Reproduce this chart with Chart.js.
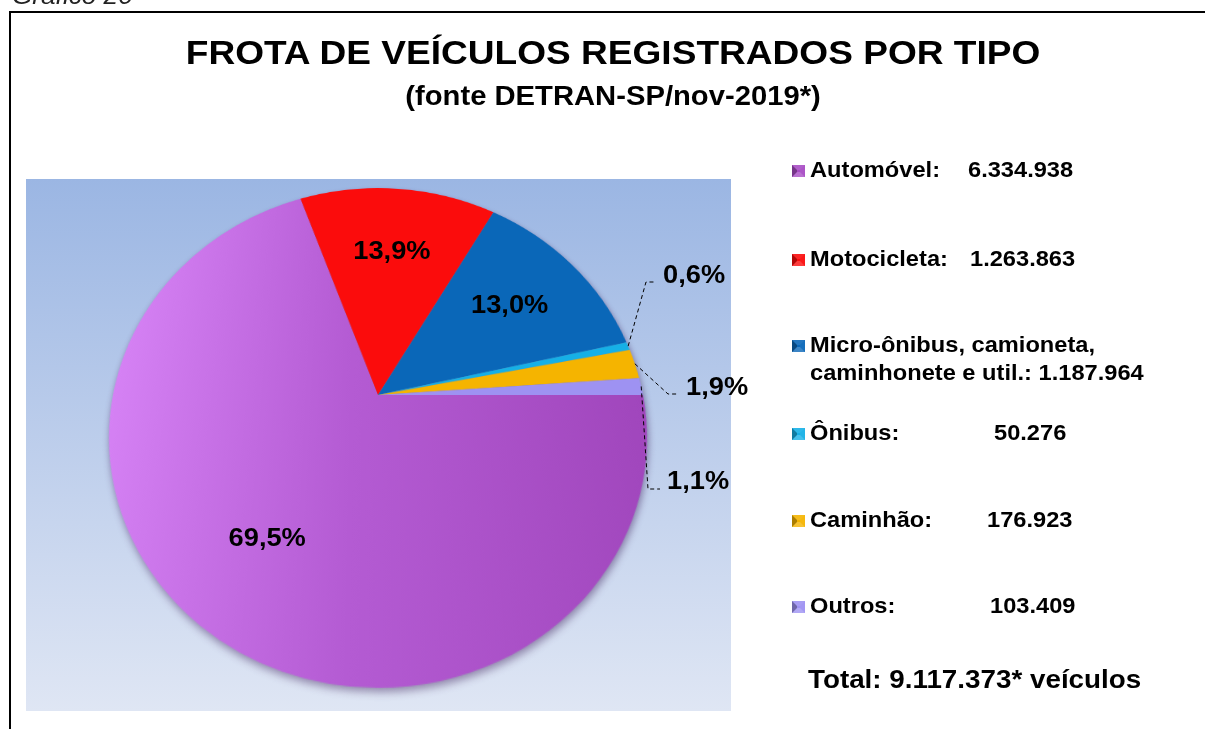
<!DOCTYPE html>
<html lang="pt-BR">
<head>
<meta charset="utf-8">
<title>Frota de veículos registrados por tipo</title>
<script src="https://cdn.jsdelivr.net/npm/chart.js@4.4.0/dist/chart.umd.min.js"></script>
<style>
html,body{margin:0;padding:0;background:#fff;width:1205px;height:729px;overflow:hidden;
  font-family:'Liberation Sans',Arial,Helvetica,sans-serif;color:#000;}
.t{position:absolute;white-space:nowrap;line-height:1;}
#frame{position:absolute;left:9px;top:11px;width:1300px;height:800px;border-left:2px solid #000;border-top:2px solid #000;}
#plotbg{position:absolute;left:26px;top:179px;width:705px;height:532px;background:linear-gradient(#9bb6e3,#dfe6f4);}
#pie{position:absolute;left:78px;top:95px;filter:drop-shadow(1px 3px 3px rgba(50,20,80,.45));}
#ovl{position:absolute;left:0;top:0;pointer-events:none;}
.mk{position:absolute;width:3px;height:2px;border-style:solid;border-width:5px 5px 5px 5px;}
</style>
</head>
<body>
<div id="frame"></div>
<div id="plotbg"></div>
<canvas id="pie" width="600" height="600"></canvas>
<canvas id="ovl" width="1205" height="729"></canvas>
<div id="txt"></div>
<script>
// frota DETRAN-SP, nov/2019
const labels = ['Automóvel', 'Motocicleta', 'Micro-ônibus, camioneta,\ncaminhonete e util.', 'Ônibus', 'Caminhão', 'Outros'];
const values = [6334938, 1263863, 1187964, 50276, 176923, 103409];
const colors = ['#a84cc4', '#fb0c0c', '#0a67b8', '#16b0e6', '#f5b400', '#9e92f2'];
const totalTxt = 'Total: 9.117.373* veículos';

// layout
const SX = 1.09;                 // texts are a bit wide
const TILT = 23.8 * Math.PI / 180, PERSP = 621;
const LEG_X = 810, LEG_BASE = [177, 266, 352, 440, 527, 613], LEG_VALX = [968, 970, null, 994, 987, 990];
const OUT_LBL = {
  3: {path: [[646, 282], [655, 282]], at: [663, 283]},
  4: {path: [[668, 394], [677, 394]], at: [686, 395]},
  5: {path: [[648, 489], [660, 489]], at: [667, 489]}
};

const fmt = v => String(v).replace(/\B(?=(\d{3})+(?!\d))/g, '.');
const total = values.reduce((a, b) => a + b, 0);
const pct = v => (v / total * 100).toFixed(1).replace('.', ',') + '%';

function shade(hex, f){
  const n = parseInt(hex.slice(1), 16);
  const c = [n >> 16, (n >> 8) & 255, n & 255].map(x => f < 0 ? x * (1 + f) : x + (255 - x) * f);
  return 'rgb(' + c.map(Math.round).join(',') + ')';
}

// text helper: x is left edge (or center when mid), base is the baseline
function put(s, x, base, size, o){
  o = o || {};
  const d = document.createElement('div');
  d.className = 't';
  d.textContent = s;
  d.style.fontSize = size + 'px';
  d.style.fontWeight = o.normal ? 'normal' : 'bold';
  if(o.italic) d.style.fontStyle = 'italic';
  if(o.color) d.style.color = o.color;
  d.style.left = x + 'px';
  d.style.top = (base - 0.8465 * size) + 'px';
  if(o.mid){ d.style.transformOrigin = '50% 0'; d.style.transform = 'translateX(-50%) scaleX(' + SX + ')'; }
  else { d.style.transformOrigin = '0 0'; d.style.transform = 'scaleX(' + SX + ')'; }
  document.getElementById('txt').appendChild(d);
  return d;
}

put('Gráfico 20', 12, 4, 24, {normal: true, italic: true, color: '#222'});
put('FROTA DE VEÍCULOS REGISTRADOS POR TIPO', 613, 64, 34, {mid: true});
put('(fonte DETRAN-SP/nov-2019*)', 613, 106, 26.8, {mid: true});

// legend with small bevelled squares
labels.forEach((lb, i) => {
  const lines = lb.split('\n');
  const b = LEG_BASE[i];
  const mk = document.createElement('div');
  mk.className = 'mk';
  mk.style.left = '792px';
  mk.style.top = (b - 12) + 'px';
  mk.style.background = colors[i];
  mk.style.borderColor = [shade(colors[i], .1), shade(colors[i], .05), shade(colors[i], .2), shade(colors[i], -.3)].join(' ');
  document.getElementById('txt').appendChild(mk);
  lines.forEach((ln, k) => {
    let s = ln;
    if(k === lines.length - 1) s += LEG_VALX[i] === null ? ': ' + fmt(values[i]) : ':';
    put(s, LEG_X, b + k * 28, 21.7);
  });
  if(LEG_VALX[i] !== null) put(fmt(values[i]), LEG_VALX[i], b, 21.7);
});
put(totalTxt, 808, 689, 25.5);

// pie lies on a tilted plane
const pieEl = document.getElementById('pie');
pieEl.style.transformOrigin = '300px 300px';
pieEl.style.transform = 'perspective(' + PERSP + 'px) rotateX(' + (TILT * 180 / Math.PI) + 'deg)';

const sinT = Math.sin(TILT), cosT = Math.cos(TILT);

// percentage labels are drawn flat on the overlay, positioned through the same projection
const flatLabels = {
  id: 'flatLabels',
  afterDraw(chart){
    const o = document.getElementById('ovl').getContext('2d');
    o.clearRect(0, 0, 1205, 729);
    const ox = chart.canvas.offsetLeft, oy = chart.canvas.offsetTop;
    chart.getDatasetMeta(0).data.forEach((arc, i) => {
      const p = arc.getProps(['x', 'y', 'startAngle', 'endAngle', 'outerRadius'], true);
      const mid = (p.startAngle + p.endAngle) / 2;
      const proj = r => {
        const px = Math.cos(mid) * r, py = Math.sin(mid) * r;
        const s = PERSP / (PERSP - py * sinT);
        return [ox + p.x + px * s, oy + p.y + py * cosT * s];
      };
      const txt = pct(values[i]);
      o.save();
      o.fillStyle = '#000';
      o.font = 'bold 25px "Liberation Sans", Arial, sans-serif';
      const out = OUT_LBL[i];
      if(out){
        const st = proj(p.outerRadius);
        o.strokeStyle = '#000';
        o.lineWidth = 1;
        o.setLineDash([4, 3]);
        o.beginPath();
        o.moveTo(st[0], st[1]);
        out.path.forEach(q => o.lineTo(q[0], q[1]));
        o.stroke();
        o.translate(out.at[0], out.at[1]);
        o.scale(SX, 1);
        o.textAlign = 'left';
        o.textBaseline = 'alphabetic';
        o.fillText(txt, 0, 0);
      } else {
        const c = proj(p.outerRadius * 0.66);
        o.translate(c[0], c[1]);
        o.scale(SX, 1);
        o.textAlign = 'center';
        o.textBaseline = 'middle';
        o.fillText(txt, 0, 0);
      }
      o.restore();
    });
  }
};

function sliceFill(ctx){
  const i = ctx.dataIndex;
  if(i !== 0) return colors[i];
  const ca = ctx.chart.chartArea;
  if(!ca) return colors[0];
  const g = ctx.chart.ctx.createLinearGradient(ca.left, 0, ca.right, 0);
  g.addColorStop(0, '#d581f4');
  g.addColorStop(0.45, '#b45bd3');
  g.addColorStop(1, '#a046bc');
  return g;
}

new Chart(pieEl, {
  type: 'pie',
  data: {
    labels: labels.map(l => l.replace('\n', ' ')),
    datasets: [{data: values, backgroundColor: sliceFill, borderWidth: 0}]
  },
  options: {
    responsive: false,
    animation: false,
    rotation: 90,
    layout: {padding: 35},
    plugins: {legend: {display: false}, tooltip: {enabled: false}}
  },
  plugins: [flatLabels]
});
</script>
</body>
</html>
